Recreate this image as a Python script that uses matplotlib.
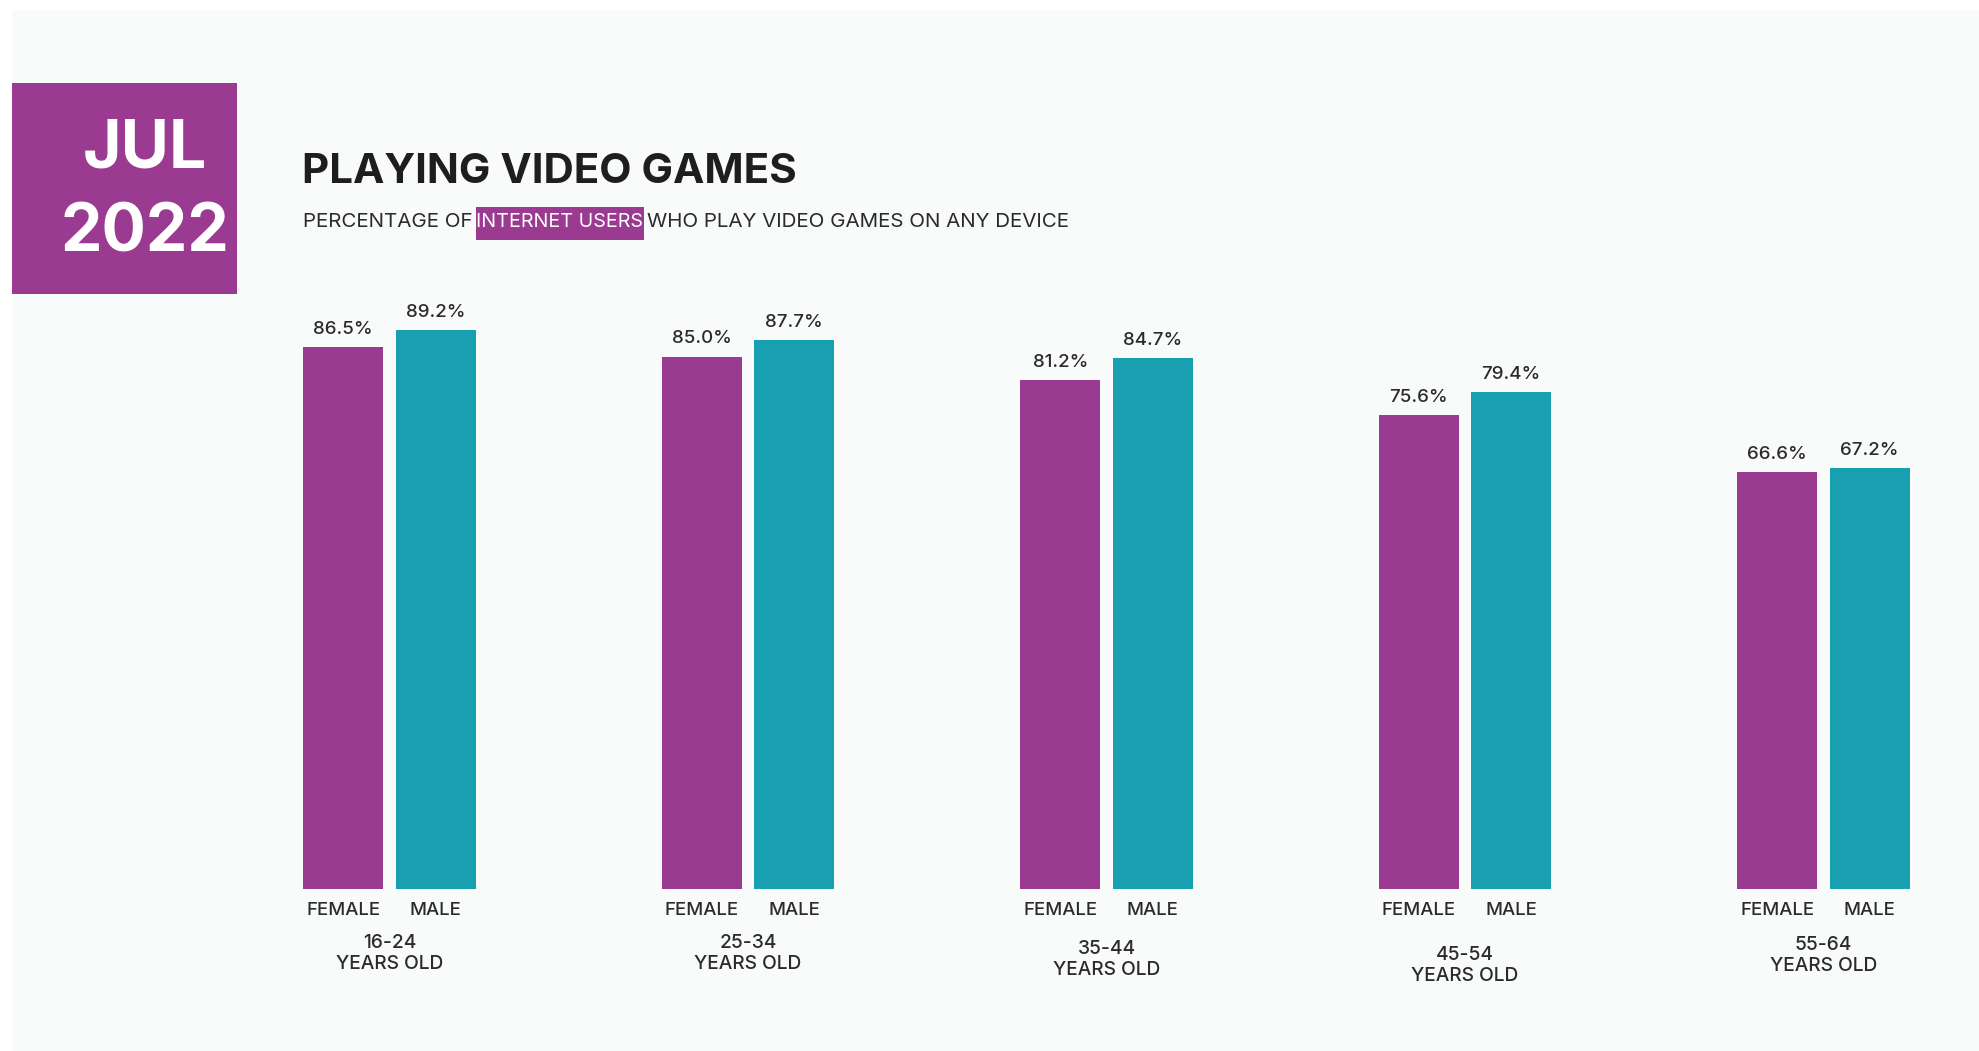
import numpy as np
import matplotlib.pyplot as plt
from matplotlib.patches import Rectangle

# Share of internet users who play video games, by age group and gender
age_groups = ['16-24', '25-34', '35-44', '45-54', '55-64']
female = [86.5, 85.0, 81.2, 75.6, 66.6]
male = [89.2, 87.7, 84.7, 79.4, 67.2]
bar_labels = ['FEMALE', 'MALE']

PURPLE = '#9b3a91'
TEAL = '#18a0b0'
PANEL = '#f9fbfb'
INK = '#2b2b2b'

plt.rcParams['font.family'] = ['Inter', 'DejaVu Sans']

W, H = 1979, 1051
fig = plt.figure(figsize=(W / 100, H / 100), dpi=100)
fig.patch.set_facecolor('white')


def fx(x):
    return x / W


def fy(y):
    return 1 - y / H


# light panel behind everything
fig.patches.append(Rectangle((fx(12), 0), 1 - fx(12), fy(10), transform=fig.transFigure,
                             facecolor=PANEL, edgecolor='none', zorder=-2))

# date badge
fig.patches.append(Rectangle((fx(12), fy(294)), fx(237) - fx(12), fy(83) - fy(294),
                             transform=fig.transFigure, facecolor=PURPLE, edgecolor='none', zorder=-1))
fig.text(fx(145), fy(150), 'JUL', color='white', fontsize=47.5, fontweight='bold',
         ha='center', va='center')
fig.text(fx(145), fy(234), '2022', color='white', fontsize=47.5, fontweight='bold',
         ha='center', va='center')

# title and subtitle
fig.text(fx(302), fy(172), 'PLAYING VIDEO GAMES', color='#1e1e1e', fontsize=30.3,
         fontweight='bold', ha='left', va='center')
fig.patches.append(Rectangle((fx(476), fy(240)), fx(644) - fx(476), fy(207) - fy(240),
                             transform=fig.transFigure, facecolor=PURPLE, edgecolor='none', zorder=-1))
sub_kw = dict(fontsize=14.8, va='center')
fig.text(fx(473), fy(222), 'PERCENTAGE OF', color=INK, ha='right', **sub_kw)
fig.text(fx(560), fy(222), 'INTERNET USERS', color='white', ha='center', fontsize=14.2, va='center')
fig.text(fx(647), fy(222), 'WHO PLAY VIDEO GAMES ON ANY DEVICE', color=INK, ha='left', **sub_kw)

# bar area: baseline at y=888 px, 6.26 px per percentage point
ax = fig.add_axes([fx(200), fy(888.6), fx(1960) - fx(200), 626 / H])
ax.set_zorder(2)
ax.set_facecolor('none')
ax.axis('off')

x = np.arange(len(age_groups))
width = 0.223
gap = 0.035
off = (width + gap) / 2
ax.bar(x - off, female, width, color=PURPLE)
ax.bar(x + off, male, width, color=TEAL)
ax.set_ylim(0, 100)
ax.set_xlim((200 - 389.5) / 358.5, (1960 - 389.5) / 358.5)

# small vertical nudges for the age captions
age_drop = [0, 0, 6, 12, 2]

for i in range(len(age_groups)):
    for dx, val in ((-off, female[i]), (off, male[i])):
        ax.annotate(f'{val:.1f}%', (x[i] + dx, val), xytext=(0, 6.5), textcoords='offset points',
                    ha='center', va='bottom', fontsize=13.5, fontweight='medium', color=INK)
    for dx, lab in zip((-off, off), bar_labels):
        ax.annotate(lab, (x[i] + dx, 0), xytext=(0, -16), textcoords='offset points',
                    ha='center', va='center', fontsize=13.4, fontweight='medium', color=INK,
                    annotation_clip=False)
    ax.annotate(f'{age_groups[i]}\nYEARS OLD', (x[i], 0),
                xytext=(0, -47 - age_drop[i] * 0.72), textcoords='offset points',
                ha='center', va='center', fontsize=13.8, fontweight='medium', color=INK,
                linespacing=1.2, annotation_clip=False)

fig.savefig('out.png', dpi=100, facecolor=fig.get_facecolor())
